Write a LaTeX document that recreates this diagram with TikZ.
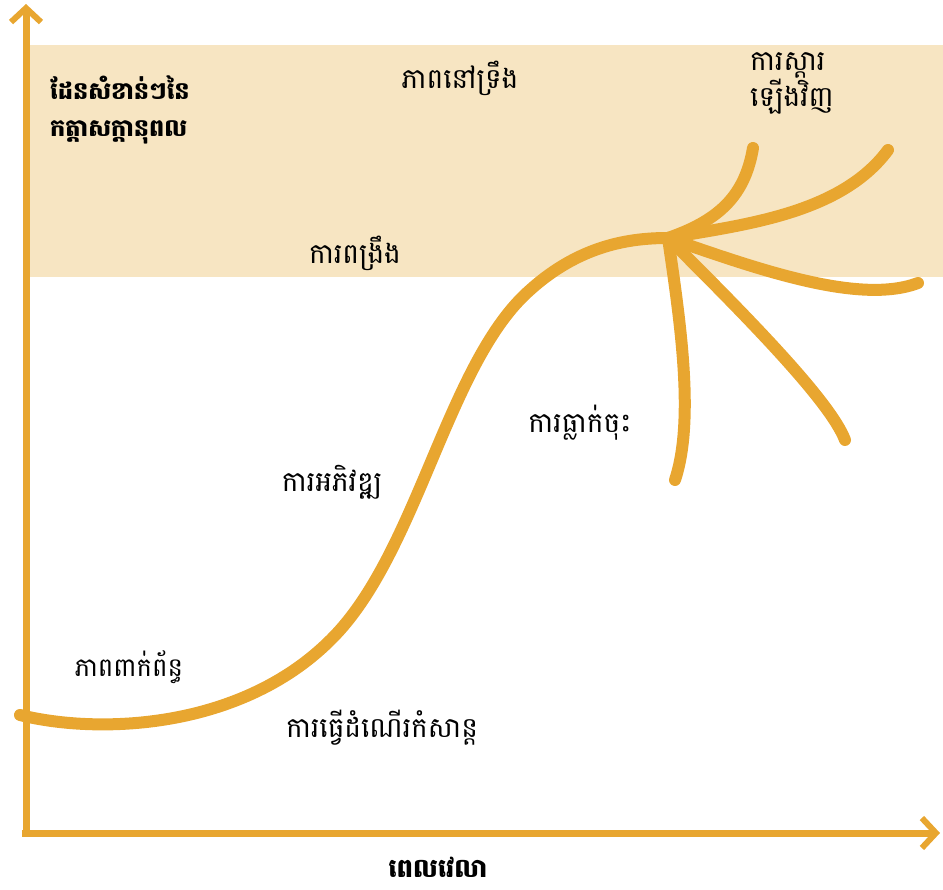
\documentclass[tikz,border=0pt]{standalone}
\usepackage{fontspec}
\newfontfamily\khmerfont[Script=Khmer]{Battambang}
\usetikzlibrary{arrows.meta}
\definecolor{curveorange}{HTML}{E8A630}
\definecolor{bandcream}{HTML}{F7E5C2}
\tikzset{
  axis line/.style={
    draw=curveorange,
    line width=7pt,
    -{Straight Barb[length=14pt,width=30pt,line width=6pt]},
  },
  growth line/.style={
    draw=curveorange,
    line width=12pt,
    line cap=round,
  },
  stage label/.style={
    font=\khmerfont\fontsize{28}{32}\selectfont,
    inner sep=0pt,
  },
  zone label/.style={
    font=\khmerfont\bfseries\fontsize{24}{37}\selectfont,
    inner sep=0pt,
  }
}

\begin{document}
\begin{tikzpicture}[x=1pt, y=-1pt]
        \useasboundingbox (0,0) rectangle (943,890);
        \fill [bandcream] (30,45) rectangle (943,277);

        % axes
        \coordinate (origin) at (26,833);
        \coordinate (ytip) at (26,4);
        \coordinate (xtip) at (940,833);
        \draw [axis line] (26,836) -- (ytip);
        \draw [axis line] (22,833) -- (xtip);

        % growth curve
        \coordinate (start) at (20,715);
        \coordinate (mid) at (340,630);
        \coordinate (turn) at (530,290);
        \coordinate (peak) at (668,238);
        \draw [growth line] (start) .. controls (100,735) and (250,730) .. (mid)
          .. controls (420,540) and (450,360) .. (turn)
          .. controls (580,245) and (630,238) .. (peak);

        % branches
        \coordinate (b1) at (753,148);
        \coordinate (b2) at (888,150);
        \coordinate (b3) at (918,283);
        \coordinate (b4) at (845,440);
        \coordinate (b5) at (675,480);
        \draw [growth line] (b1) .. controls (745,195) and (720,220) .. (peak);
        \draw [growth line] (b2) .. controls (840,215) and (740,225) .. (peak);
        \draw [growth line] (b3) .. controls (860,305) and (760,270) .. (peak);
        \draw [growth line] (b4) .. controls (830,400) and (740,310) .. (peak);
        \draw [growth line] (b5) .. controls (695,420) and (680,320) .. (peak);

        % labels
        \node [zone label, anchor=north west, align=left] (zone) at (50,76)
          {ដែនសំខាន់ៗនៃ\\កត្តាសក្តានុពល};
        \node [stage label] (plateau) at (460,78) {ភាពនៅទ្រឹង};
        \node [stage label, anchor=north west, align=left] (recovery) at (750,52)
          {ការស្តារ\\ឡើងវិញ};
        \node [stage label] (consolidation) at (355,253) {ការពង្រឹង};
        \node [stage label] (decline) at (580,423) {ការធ្លាក់ចុះ};
        \node [stage label] (growth) at (332,482) {ការអភិវឌ្ឍ};
        \node [stage label, font=\khmerfont\fontsize{26}{30}\selectfont] (involvement) at (129,667) {ភាពពាក់ព័ន្ធ};
        \node [stage label] (exploration) at (382,728) {ការធ្វើដំណើរកំសាន្ត};
        \node [zone label, font=\khmerfont\bfseries\fontsize{26}{30}\selectfont] (time) at (438,867) {ពេលវេលា};
      \end{tikzpicture}
\end{document}
